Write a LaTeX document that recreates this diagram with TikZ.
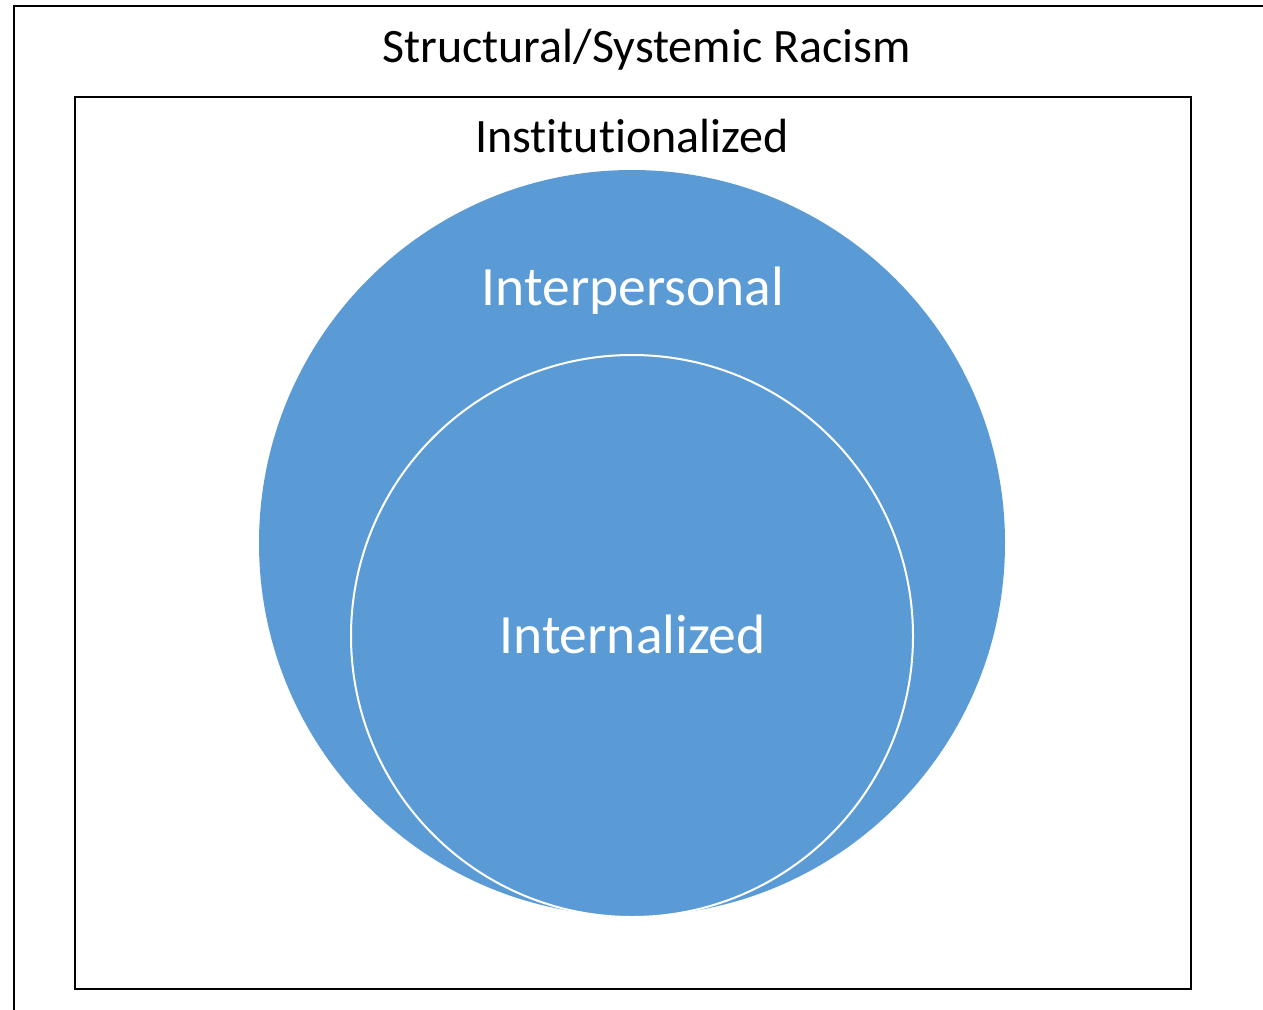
\documentclass[tikz,border=0pt]{standalone}
\usepackage{fontspec}
\setmainfont[Ligatures=NoCommon]{Carlito}
\definecolor{venn}{HTML}{5B9BD5}
\begin{document}
\begin{tikzpicture}[x=1pt,y=-1pt,
  frame/.style={draw=black,line width=2pt},
  label/.style={anchor=base,inner sep=0pt},
  ring/.style={fill=venn,draw=none}]
\useasboundingbox (0,0) rectangle (1263,1009);
\clip (0,0) rectangle (1263,1009);
\fill[white] (0,0) rectangle (1263,1009);
\draw[frame] (14,5.5) rectangle (1300,1060);
\draw[frame] (74.5,97) rectangle (1190.5,989);
\node[label,font=\fontsize{48}{56}\selectfont] (structural) at (646.5,62) {Structural/Systemic Racism};
\node[label,font=\fontsize{48}{56}\selectfont] (institutional) at (632,152) {Institutionalized};
\fill[ring] (632,543) circle[radius=373];
\node[label,text=white,font=\fontsize{55.5}{64}\selectfont] (interpersonal) at (633,305) {Interpersonal};
\filldraw[fill=venn,draw=white,line width=2pt] (632,636) circle[radius=281];
\node[label,text=white,font=\fontsize{55.5}{64}\selectfont] (internalized) at (632.5,653) {Internalized};
\end{tikzpicture}
\end{document}
